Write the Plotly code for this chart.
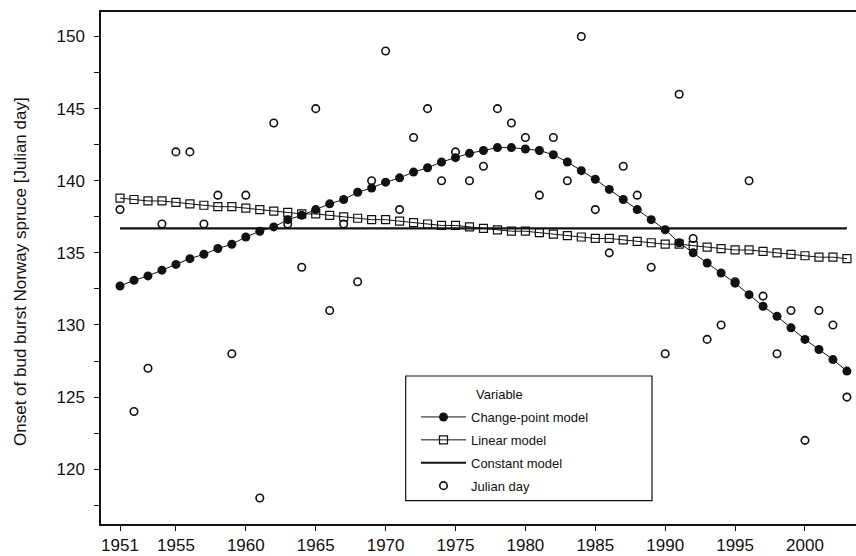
import plotly.graph_objects as go

years = list(range(1951, 2004))

julian_day = [138, 124, 127, 137, 142, 142, 137, 139, 128, 139,
              118, 144, 137, 134, 145, 131, 137, 133, 140, 149,
              138, 143, 145, 140, 142, 140, 141, 145, 144, 143,
              139, 143, 140, 150, 138, 135, 141, 139, 134, 128,
              146, 136, 129, 130, 133, 140, 132, 128, 131, 122,
              131, 130, 125]

change_point = [132.7, 133.1, 133.4, 133.8, 134.2, 134.6, 134.9, 135.3, 135.6, 136.1,
                136.5, 136.8, 137.3, 137.6, 138.0, 138.4, 138.7, 139.2, 139.5, 139.9,
                140.2, 140.6, 140.9, 141.3, 141.6, 141.9, 142.1, 142.3, 142.3, 142.2,
                142.1, 141.8, 141.3, 140.7, 140.1, 139.4, 138.7, 138.0, 137.3, 136.6,
                135.7, 135.0, 134.3, 133.6, 132.9, 132.1, 131.3, 130.6, 129.8, 129.0,
                128.3, 127.6, 126.8]

linear_model = [138.8, 138.7, 138.6, 138.6, 138.5, 138.4, 138.3, 138.2, 138.2, 138.1,
                138.0, 137.9, 137.8, 137.7, 137.7, 137.6, 137.5, 137.4, 137.3, 137.3,
                137.2, 137.1, 137.0, 136.9, 136.9, 136.8, 136.7, 136.6, 136.5, 136.5,
                136.4, 136.3, 136.2, 136.1, 136.0, 136.0, 135.9, 135.8, 135.7, 135.6,
                135.6, 135.5, 135.4, 135.3, 135.2, 135.2, 135.1, 135.0, 134.9, 134.8,
                134.7, 134.7, 134.6]

constant_value = 136.7
constant_model = [constant_value] * len(years)

x_ticks = [1951, 1955, 1960, 1965, 1970, 1975, 1980, 1985, 1990, 1995, 2000]
y_ticks = [120, 125, 130, 135, 140, 145, 150]

FONT = "Liberation Sans, Arial, sans-serif"
INK = "#111111"

fig = go.Figure()

fig.add_trace(go.Scatter(
    x=years, y=change_point, name="Change-point model", legendgroup="a",
    mode="lines+markers",
    line=dict(color=INK, width=1),
    marker=dict(symbol="circle", size=9, color=INK),
))
fig.add_trace(go.Scatter(
    x=years, y=linear_model, name="Linear model", legendgroup="b",
    mode="lines+markers",
    line=dict(color=INK, width=1),
    marker=dict(symbol="square-open", size=8, color=INK, line=dict(width=1.2, color=INK)),
))
fig.add_trace(go.Scatter(
    x=years, y=constant_model, name="Constant model", legendgroup="c",
    mode="lines",
    line=dict(color=INK, width=2.2),
))
fig.add_trace(go.Scatter(
    x=years, y=julian_day, name="Julian day", legendgroup="d",
    mode="markers",
    marker=dict(symbol="circle-open", size=7.5, color=INK, line=dict(width=1.6, color=INK)),
))

W, H = 856, 556
L, R, T, B = 101, 0, 12, 32
pw, ph = W - L - R, H - T - B

def px_x(px):
    return (px - L) / pw

def px_y(py):
    return (H - B - py) / ph

fig.add_shape(type="rect", xref="paper", yref="paper",
              x0=px_x(405.7), x1=px_x(652), y0=px_y(500.7), y1=px_y(376),
              line=dict(color=INK, width=1.2), fillcolor="white", layer="below")

fig.add_annotation(text="Variable", xref="paper", yref="paper",
                   x=px_x(474), y=px_y(394), xanchor="left", yanchor="middle",
                   showarrow=False, font=dict(family=FONT, size=13, color=INK))

fig.add_annotation(text="Onset of bud burst Norway spruce [Julian day]",
                   xref="paper", yref="paper", x=px_x(20), y=px_y(272),
                   xanchor="center", yanchor="middle", textangle=-90,
                   showarrow=False, font=dict(family=FONT, size=17, color=INK))

fig.update_layout(
    width=W, height=H,
    margin=dict(l=L, r=R, t=T, b=B, pad=0),
    paper_bgcolor="white", plot_bgcolor="white",
    font=dict(family=FONT, size=17, color=INK),
    showlegend=True,
    legend=dict(
        x=px_x(416), y=px_y(402), xanchor="left", yanchor="top",
        bgcolor="rgba(0,0,0,0)", borderwidth=0,
        font=dict(family=FONT, size=13, color=INK),
        itemwidth=45, traceorder="grouped", tracegroupgap=3,
    ),
)

fig.update_xaxes(
    range=[1949.64, 2003.65], tickmode="array", tickvals=x_ticks,
    ticks="outside", ticklen=5, tickwidth=1.2, tickcolor=INK,
    showline=True, linecolor=INK, linewidth=1.5, mirror=True,
    showgrid=False, zeroline=False,
    tickfont=dict(family=FONT, size=17, color=INK),
)
fig.update_yaxes(
    range=[116.2, 151.7], tickmode="array", tickvals=y_ticks,
    ticks="outside", ticklen=5, tickwidth=1.2, tickcolor=INK,
    minor=dict(tickvals=[117.5, 122.5, 127.5, 132.5, 137.5, 142.5, 147.5],
               ticks="outside", ticklen=5, tickwidth=1.2, tickcolor=INK),
    showline=True, linecolor=INK, linewidth=1.5, mirror=False,
    showgrid=False, zeroline=False, ticklabelstandoff=6,
    tickfont=dict(family=FONT, size=17, color=INK),
)

fig.write_html("out.html")
